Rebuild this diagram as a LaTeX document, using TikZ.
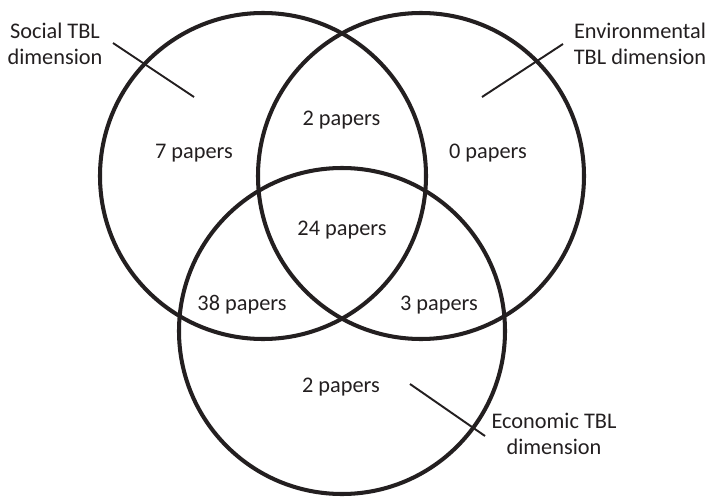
\documentclass[tikz,border=0pt]{standalone}
\usepackage{fontspec}
\setmainfont{Carlito}
\definecolor{ink}{HTML}{231F20}
\begin{document}
\begin{tikzpicture}[
        venn/.style={circle, draw=ink, line width=2.3pt, minimum size=6.52cm, inner sep=0pt},
        lbl/.style={align=center, text=ink, font=\fontsize{12.7}{14.8}\selectfont},
        cnt/.style={anchor=base, text=ink, font=\fontsize{12.7}{14.8}\selectfont},
        leader/.style={draw=ink, line width=1.1pt}
    ]
        \useasboundingbox (0,0) rectangle (14.2,9.92);

        % Circulos
        \node[venn] (soc) at (5.26,6.40) {};
        \node[venn] (env) at (8.42,6.40) {};
        \node[venn] (eco) at (6.84,3.30) {};

        % Numero de papers
        \foreach \name/\x/\y/\val in {
            onlysoc/3.88/6.76/7,
            socenv/6.83/7.42/2,
            onlyenv/9.76/6.76/0,
            allthree/6.84/5.22/24,
            soceco/4.84/3.72/38,
            enveco/8.78/3.72/3,
            onlyeco/6.82/2.08/2} {
            \node[cnt] (\name) at (\x,\y) {\val\ papers};
        }

        % Dimensiones
        \node[lbl] (soclbl) at (1.10,9.04) {Social TBL\\dimension};
        \node[lbl] (envlbl) at (12.80,9.04) {Environmental\\TBL dimension};
        \node[lbl] (ecolbl) at (11.08,1.25) {Economic TBL\\dimension};

        \coordinate (socout) at (2.26,9.06);
        \coordinate (socin) at (3.88,7.98);
        \coordinate (envout) at (11.26,9.04);
        \coordinate (envin) at (9.64,7.98);
        \coordinate (ecoin) at (8.20,2.24);
        \coordinate (ecoout) at (9.70,1.20);
        \draw[leader] (socout) -- (socin);
        \draw[leader] (envout) -- (envin);
        \draw[leader] (ecoin) -- (ecoout);
    \end{tikzpicture}
\end{document}
